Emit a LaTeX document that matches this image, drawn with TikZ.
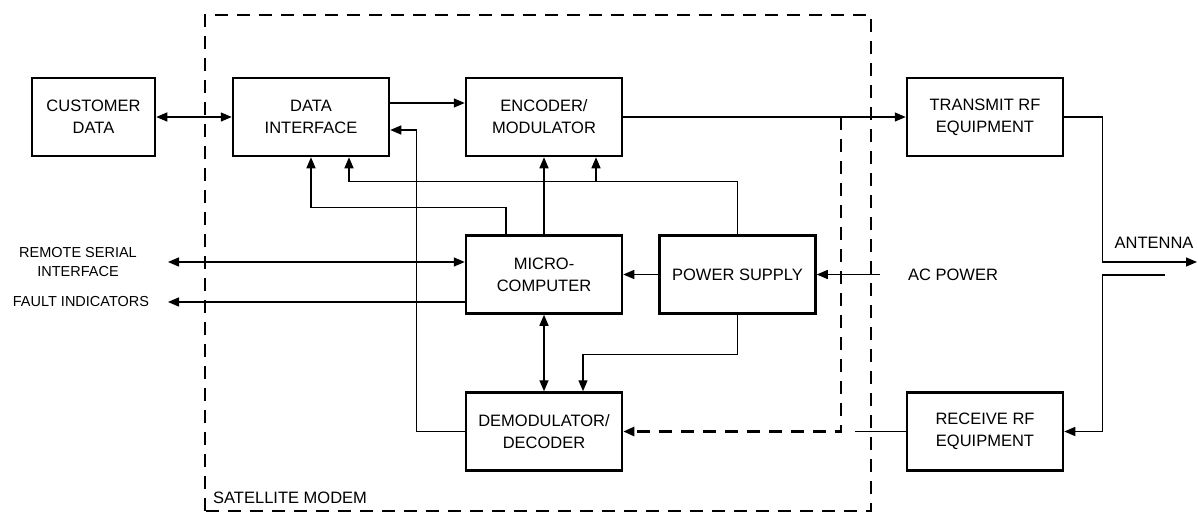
\documentclass[tikz,border=0pt]{standalone}
\usepackage{fontspec}
\setmainfont{Liberation Sans}
\usepackage{tikz}
\usetikzlibrary{arrows.meta,calc}

\begin{document}
\begin{tikzpicture}[
    x=1pt, y=1pt,
    every node/.style={font=\fontsize{16.5}{22}\selectfont, align=center},
    block/.style={draw, line width=2.5pt, minimum width=156pt, minimum height=78pt, inner sep=0pt},
    extlabel/.style={font=\fontsize{14.5}{19}\selectfont},
    flow/.style={-{Triangle[length=11pt,width=9pt]}, line width=1.4pt},
    dflow/.style={{Triangle[length=11pt,width=9pt]}-{Triangle[length=11pt,width=9pt]}, line width=1.4pt},
    wire/.style={line width=1.4pt},
    modem/.style={line width=2.5pt, dash pattern=on 13pt off 9pt}
  ]
    \useasboundingbox (0,0) rectangle (1198,515);

    % satellite modem boundary
    \draw[modem] (205,4) rectangle (871,500);
    \node[anchor=base west, inner sep=0pt] (modemlabel) at (213,12) {SATELLITE MODEM};

    \node[block, minimum width=123pt] (cust) at (93.5,398) {CUSTOMER\\DATA};
    \node[block] (dif) at (311,398) {DATA\\INTERFACE};
    \node[block] (enc) at (544,398) {ENCODER/\\MODULATOR};
    \node[block] (tx) at (985,398) {TRANSMIT RF\\EQUIPMENT};
    \node[block] (micro) at (544,240.5) {MICRO-\\COMPUTER};
    \node[block] (ps) at (737.5,240.5) {POWER SUPPLY};
    \node[block] (demod) at (544,83.5) {DEMODULATOR/\\DECODER};
    \node[block] (rx) at (985,83.5) {RECEIVE RF\\EQUIPMENT};

    \coordinate (rsi) at (168,253);
    \coordinate (flt) at (168,213);
    \coordinate (acin) at (880,240.5);
    \coordinate (antout) at (1197,253);
    \coordinate (antin) at (1165,240);
    \coordinate (tap) at (841,398);
    \coordinate (rxstub) at (855,83.5);

    \node[extlabel] (rsilabel) at (78,252.5) {REMOTE SERIAL\\INTERFACE};
    \node[extlabel] (fltlabel) at (81,213) {FAULT INDICATORS};
    \node (aclabel) at (953,240.5) {AC POWER};
    \node (antlabel) at (1154,272) {ANTENNA};

    \draw[dflow] (cust) -- (dif);
    \draw[flow] ([yshift=14pt]dif.east) -- ([yshift=14pt]enc.west);
    \draw[flow] (demod.west) -| ([xshift=26pt,yshift=-13pt]dif.east) -- ([yshift=-13pt]dif.east);
    \draw[flow] (enc) -- (tx);
    \draw[flow] (micro) -- (enc);
    \draw[flow] ([xshift=-38pt]micro.north) -- ++(0,26.5) -| (dif.south);
    \draw[flow] (ps.north) -- ++(0,52.5) coordinate (psbus) -| ([xshift=38pt]dif.south);
    \coordinate (encpwr) at ([xshift=52pt]enc.south);
    \draw[flow] (psbus -| encpwr) -- (encpwr);
    \draw[flow] (ps) -- (micro);
    \draw[flow] (acin) -- (ps);
    \draw[dflow] (micro) -- (demod);
    \draw[flow] (ps.south) -- ++(0,-39.5) -| ([xshift=39pt]demod.north);
    \draw[dflow] (rsi) -- (rsi -| micro.west);
    \draw[flow] (flt -| micro.west) -- (flt);
    \draw[flow, modem] (tap) |- (demod.east);
    \draw[wire] (rx) -- (rxstub);
    \draw[flow] (tx.east) -- ++(38,0) |- (antout);
    \draw[flow] (antin) -| ([xshift=38pt]rx.east) -- (rx.east);
  \end{tikzpicture}
\end{document}
